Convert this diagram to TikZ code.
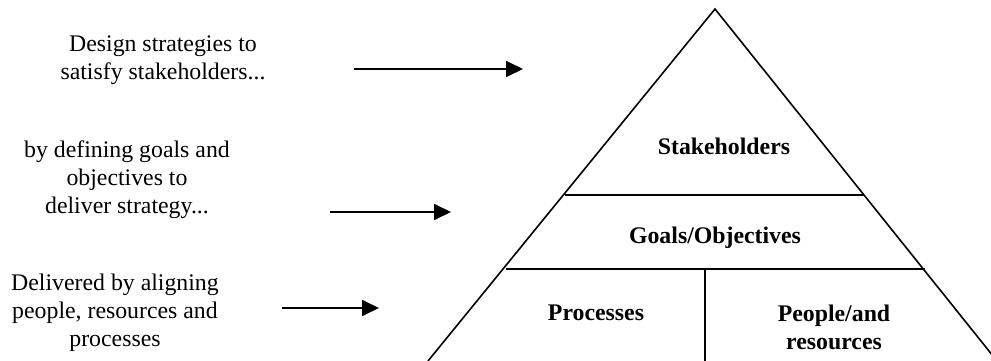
\documentclass[tikz,border=0pt]{standalone}
\usepackage{fontspec}
\setmainfont{Liberation Serif}
\usetikzlibrary{arrows.meta}
\begin{document}
\begin{tikzpicture}[x=1pt,y=-1pt,
  txt/.style={align=center,inner sep=0pt,font=\fontsize{23.8}{28}\selectfont},
  lbl/.style={align=center,inner sep=0pt,font=\fontsize{23.8}{28}\selectfont\bfseries},
  edge/.style={line width=1.6pt},
  pointer/.style={line width=1.8pt,-{Triangle[length=17pt,width=16pt]}}]
\useasboundingbox (0,0) rectangle (991,361);
\clip (0,0) rectangle (991,361);
% triangle
\coordinate (apex) at (715,9);
\coordinate (bl) at (428,361);
\coordinate (br) at (997,361);
\draw[edge,line join=miter] (bl) -- (apex) -- (br);
\coordinate (s1) at (565,195); \coordinate (s2) at (864,195);
\coordinate (g1) at (506,269); \coordinate (g2) at (925,269);
\coordinate (v1) at (705,269); \coordinate (v2) at (705,361);
\draw[edge] (s1) -- (s2);
\draw[edge] (g1) -- (g2);
\draw[edge] (v1) -- (v2);
% labels inside
\node[lbl] (stake) at (724,146) {Stakeholders};
\node[lbl] (goals) at (715,238) {Goals/Objectives};
\node[lbl] (proc) at (596,313) {Processes};
\node[lbl] (people) at (834,327) {People/and\\resources};
% left texts
\node[txt] (t1) at (163,60) {Design strategies to\\satisfy stakeholders...};
\node[txt] (t2) at (127,180) {by defining goals and\\objectives to\\deliver strategy...};
\node[txt] (t3) at (115,313) {Delivered by aligning\\people, resources and\\processes};
% arrows
\coordinate (a1s) at (354,69); \coordinate (a1e) at (523,69);
\coordinate (a2s) at (330,212); \coordinate (a2e) at (451,212);
\coordinate (a3s) at (282,308); \coordinate (a3e) at (379,308);
\draw[pointer] (a1s) -- (a1e);
\draw[pointer] (a2s) -- (a2e);
\draw[pointer] (a3s) -- (a3e);
\end{tikzpicture}
\end{document}
